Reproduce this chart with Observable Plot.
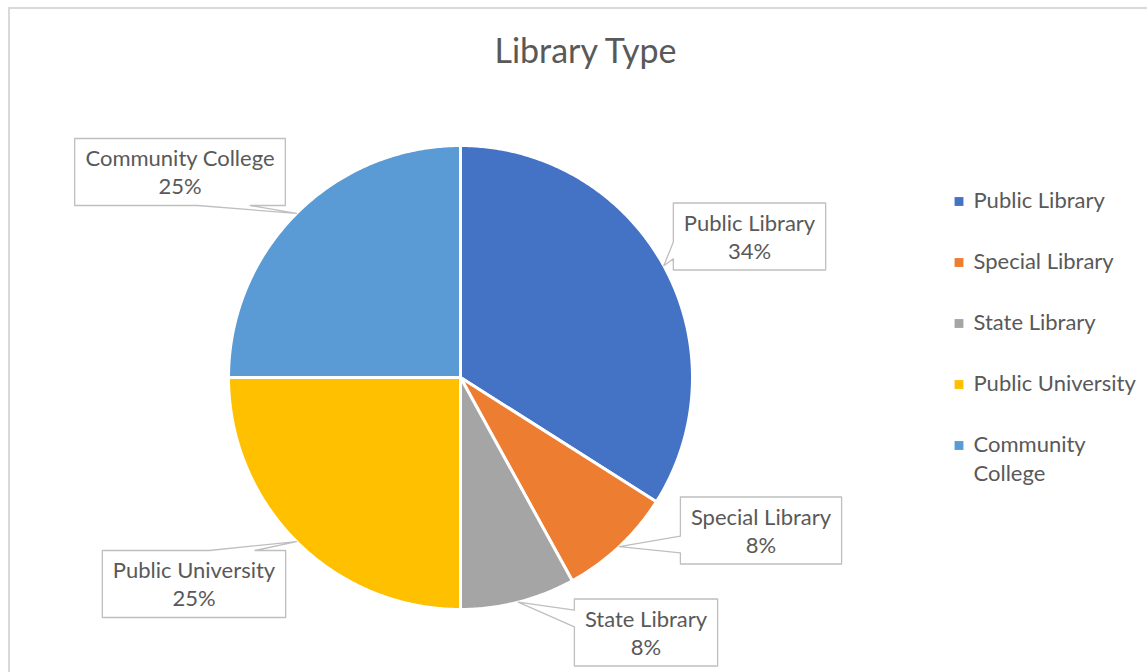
<!DOCTYPE html>
<html><head><meta charset="utf-8">
<script src="https://cdn.jsdelivr.net/npm/d3@7"></script>
<script src="https://cdn.jsdelivr.net/npm/@observablehq/plot@0.6"></script>
<style>
html,body{margin:0;padding:0;background:#fff;overflow:hidden;}
#chart{position:relative;width:1147px;height:672px;}
#border{position:absolute;left:8px;top:7px;width:2000px;height:2000px;border-left:2px solid #d9d9d9;border-top:2px solid #d9d9d9;pointer-events:none;}
</style></head><body>
<div id="chart"><div id="border"></div></div>
<script>
// ---- data ----
const title = "Library Type";
const categories = ["Public Library", "Special Library", "State Library", "Public University", "Community College"];
const values = [34, 8, 8, 25, 25];
const colors = ["#4472C4", "#ED7D31", "#A5A5A5", "#FFC000", "#5B9BD5"];

// ---- layout (pixels) ----
const W = 1147, H = 672;
const FONT = "Lato";
const TEXT = "#595959";
const pieL = {cx: 460, cy: 377, r: 232};
const labelFont = 22, titleFont = 34, legendFont = 22;
const calloutCenters = [[749, 236], [760.5, 530], [645.5, 632], [193.5, 583.5], [179.5, 171.5]];
const calloutH = 67, calloutPad = 10.5, tipR = 1.0;
const titlePos = [585, 52];
const legendPos = {sx: 958.5, tx: 973, y0: 201, dy: 61, maxW: 172, lh: 29};

const ux = px => (px - pieL.cx) / pieL.r;
const uy = py => (pieL.cy - py) / pieL.r;

const ctx = document.createElement("canvas").getContext("2d");
function measure(t, size) { ctx.font = `${size}px ${FONT}`; return ctx.measureText(t).width; }
function wrap(t, size, maxW) {
  const words = t.split(" "); const lines = []; let cur = "";
  for (const w of words) {
    const test = cur ? cur + " " + w : w;
    if (cur && measure(test, size) > maxW) { lines.push(cur); cur = w; } else cur = test;
  }
  lines.push(cur); return lines.join("\n");
}

const total = d3.sum(values);
const arcs = d3.pie().sort(null).value(d => d)(values);

// slices
const slicePts = arcs.flatMap((a, i) => {
  const cat = categories[i];
  const n = Math.max(2, Math.ceil((a.endAngle - a.startAngle) / (Math.PI / 360)));
  const pts = [{cat, x: 0, y: 0}];
  for (let k = 0; k <= n; k++) {
    const t = a.startAngle + (a.endAngle - a.startAngle) * k / n;
    pts.push({cat, x: Math.sin(t), y: Math.cos(t)});
  }
  pts.push({cat, x: 0, y: 0});
  return pts;
});

// callouts
function callout(cxp, cyp, w, h, tx, ty) {
  const L = cxp - w / 2, R = cxp + w / 2, T = cyp - h / 2, B = cyp + h / 2;
  const ex = Math.abs(tx - cxp) / (w / 2), ey = Math.abs(ty - cyp) / (h / 2);
  let pts;
  if (ex >= ey) {
    const below = ty > cyp;
    const b1 = T + h * (below ? 7 : 2) / 12, b2 = T + h * (below ? 10 : 5) / 12;
    if (tx < cxp) pts = [[L, T], [R, T], [R, B], [L, B], [L, b2], [tx, ty], [L, b1]];
    else pts = [[L, T], [R, T], [R, b1], [tx, ty], [R, b2], [R, B], [L, B]];
  } else {
    const right = tx > cxp;
    const a1 = L + w * (right ? 7 : 2) / 12, a2 = L + w * (right ? 10 : 5) / 12;
    if (ty < cyp) pts = [[L, T], [a1, T], [tx, ty], [a2, T], [R, T], [R, B], [L, B]];
    else pts = [[L, T], [R, T], [R, B], [a2, B], [tx, ty], [a1, B], [L, B]];
  }
  pts.push(pts[0]);
  return pts;
}

const labels = arcs.map((a, i) => {
  const pct = Math.round(values[i] / total * 100) + "%";
  const text = categories[i] + "\n" + pct;
  const w = Math.max(measure(categories[i], labelFont), measure(pct, labelFont)) + 2 * calloutPad;
  const [bx, by] = calloutCenters[i];
  const mid = (a.startAngle + a.endAngle) / 2;
  const tx = pieL.cx + pieL.r * tipR * Math.sin(mid), ty = pieL.cy - pieL.r * tipR * Math.cos(mid);
  const poly = callout(bx, by, w, calloutH, tx, ty).map(([x, y]) => ({cat: categories[i], x: ux(x), y: uy(y)}));
  return {cat: categories[i], text, x: ux(bx), y: uy(by - 0.5), poly};
});
const calloutPts = labels.flatMap(d => d.poly);

const legend = categories.map((c, i) => ({
  cat: c,
  text: wrap(c, legendFont, legendPos.maxW),
  sx: ux(legendPos.sx), tx: ux(legendPos.tx), y: uy(legendPos.y0 + i * legendPos.dy)
}));

const chart = Plot.plot({
  width: W, height: H, margin: 0,
  x: {domain: [ux(0), ux(W)], axis: null},
  y: {domain: [uy(H), uy(0)], axis: null},
  color: {domain: categories, range: colors},
  style: {fontFamily: FONT, background: "transparent"},
  marks: [
    Plot.line(slicePts, {x: "x", y: "y", z: "cat", fill: "cat", stroke: "white", strokeWidth: 3, strokeLinejoin: "round"}),
    Plot.line(calloutPts, {x: "x", y: "y", z: "cat", fill: "white", stroke: "#BFBFBF", strokeWidth: 1.3}),
    Plot.text(labels, {x: "x", y: "y", text: "text", fontSize: labelFont, fill: TEXT, lineHeight: 28 / labelFont}),
    Plot.text([title], {x: () => ux(titlePos[0]), y: () => uy(titlePos[1]), text: d => d, fontSize: titleFont, fill: TEXT}),
    Plot.dot(legend, {x: "sx", y: "y", symbol: "square", fill: "cat", r: 5}),
    Plot.text(legend, {x: "tx", y: "y", text: "text", textAnchor: "start", lineAnchor: "top", dy: -14, fontSize: legendFont, fill: TEXT, lineHeight: legendPos.lh / legendFont})
  ]
});
chart.style.position = "absolute";
chart.style.left = "0px";
chart.style.top = "0px";
document.getElementById("chart").appendChild(chart);
</script>
</body></html>
